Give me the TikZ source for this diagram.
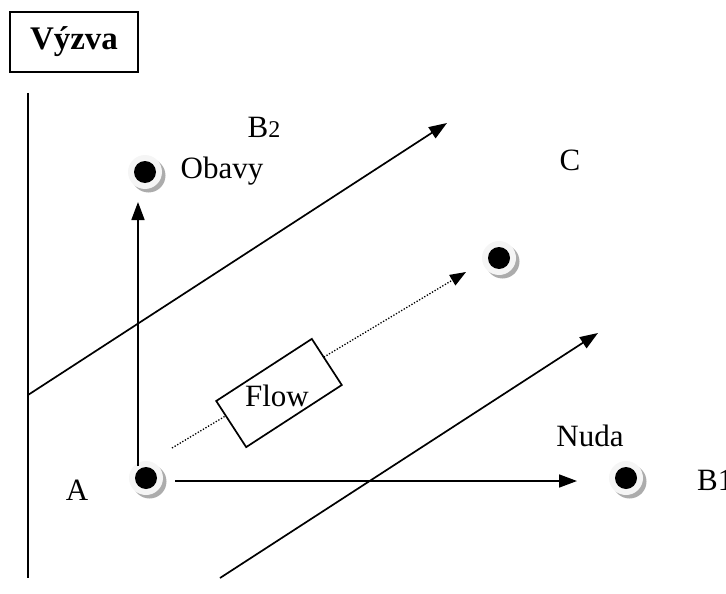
\documentclass[tikz,border=0pt]{standalone}
\usepackage{fontspec}
\setmainfont{Liberation Serif}
\usetikzlibrary{arrows.meta,shadows}
\begin{document}
\begin{tikzpicture}[x=1pt,y=-1pt,
  solid line/.style={line width=1.7pt},
  arr/.style={line width=1.7pt,-{Triangle[length=18pt,width=13pt]}},
  dotarr/.style={line width=1.3pt,dash pattern=on 1.3pt off 1.7pt,-{Triangle[length=16pt,width=12pt]}},
  lbl/.style={font=\fontsize{31}{34}\selectfont,inner sep=0pt,anchor=center},
  ring/.style={circle,fill=gray!8,minimum size=34pt,inner sep=0pt,
    drop shadow={shadow xshift=3.5pt,shadow yshift=-3.5pt,fill=gray!65,opacity=1}},
  flowbox/.style={draw,line width=1.7pt,fill=white,rotate=33,minimum width=114pt,minimum height=55pt,inner sep=0pt},
  titlebox/.style={draw,line width=1.7pt,minimum width=128pt,minimum height=60pt,inner sep=0pt,
    font=\fontsize{33}{36}\selectfont\bfseries}]
\useasboundingbox (0,0) rectangle (726,594);

% title
\node[titlebox] (title) at (74,42) {Výzva};

% axis
\coordinate (axT) at (28,93);
\coordinate (axB) at (28,578);
\draw[solid line] (axT) -- (axB);

% dots
\node[ring] (A) at (146,478) {};
\node[ring] (B2d) at (145,172) {};
\node[ring] (Cd) at (499,258) {};
\node[ring] (B1d) at (626,478) {};
\foreach \n in {A,B2d,Cd,B1d} \fill (\n) circle (11pt);

% labels
\node[lbl] (Alab) at (77,490) {A};
\node[lbl] (B2lab) at (264,127) {B{\fontsize{24}{26}\selectfont 2}};
\node[lbl] (Obavy) at (222,171) {Obavy};
\node[lbl] (Clab) at (570,160) {C};
\node[lbl] (Nuda) at (590,436) {Nuda};
\node[lbl,anchor=west] (B1lab) at (697,480) {B1};

% diagonals
\coordinate (u1) at (28,395);
\coordinate (u2) at (447,123);
\draw[arr] (u1) -- (u2);
\coordinate (l1) at (220,578);
\coordinate (l2) at (598,333);
\draw[arr] (l1) -- (l2);

% vertical arrow from A
\coordinate (v1) at (138,466);
\coordinate (v2) at (138,202);
\draw[arr] (v1) -- (v2);

% horizontal arrow A -> B1
\coordinate (h1) at (175,481);
\coordinate (h2) at (577,481);
\draw[arr] (h1) -- (h2);

% dotted flow arrow
\coordinate (d1) at (172,448);
\coordinate (d2) at (466,272);
\draw[dotarr] (d1) -- (d2);

% flow box
\node[flowbox] (flow) at (279,393) {};
\node[lbl] (flowtxt) at (277,396) {Flow};
\end{tikzpicture}
\end{document}
